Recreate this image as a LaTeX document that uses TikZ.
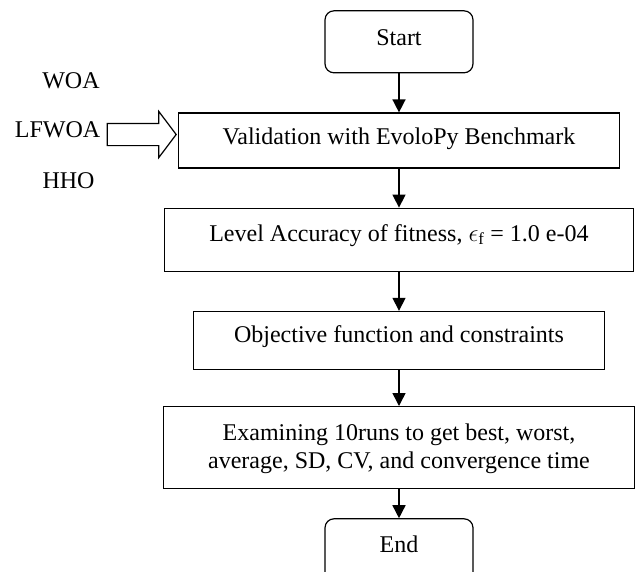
\documentclass[tikz,border=0pt]{standalone}
\usepackage{fontspec}
\setmainfont{Liberation Serif}
\usetikzlibrary{matrix}
\usetikzlibrary{shapes.arrows}
\usetikzlibrary{arrows.meta}

\begin{document}
\begin{tikzpicture}[x=1pt,y=-1pt,>={Stealth[length=13pt,width=13pt,inset=0pt]},
	term/.style={rounded corners=9pt,minimum width=148pt},
	lbl/.style={font=\fontsize{24}{28}\selectfont,anchor=base,inner sep=0pt}]
		\useasboundingbox (0,0) rectangle (635,571);
		\matrix (flow) [%
		matrix of nodes,
		nodes={draw,line width=1.2pt,inner sep=0pt,font=\fontsize{24}{28}\selectfont},
		row sep=39pt,inner sep=0pt,anchor=north,ampersand replacement=\&
		] at (399,10)
		{
			|[term,text height=35pt,text depth=27pt]| Start \\
			|[minimum width=441pt,text height=31pt,text depth=24pt]| Validation with EvoloPy Benchmark \\
			|[minimum width=469pt,text height=33pt,text depth=30pt]| Level Accuracy of fitness, $\epsilon_{\mathrm{f}}$ = 1.0 e-04 \\
			|[minimum width=411pt,text height=31pt,text depth=27pt]| Objective function and constraints \\[-3pt]
			|[minimum width=471pt,text height=34pt,text depth=48pt]| \begin{tabular}[t]{@{}c@{}}Examining 10runs to get best, worst,\\ average, SD, CV, and convergence time\end{tabular} \\[-10pt]
			|[term,text height=34pt,text depth=28pt]| End \\
		};
		\draw[->,line width=1.5pt] (flow-1-1) -- (flow-2-1);
		\draw[->,line width=1.5pt] (flow-2-1) -- (flow-3-1);
		\draw[->,line width=1.5pt] (flow-3-1) -- (flow-4-1);
		\draw[->,line width=1.5pt] (flow-4-1) -- (flow-5-1);
		\draw[->,line width=1.5pt] (flow-5-1) -- (flow-6-1);
		% algorithms fed into the validation step
		\node[lbl] (woa) at (71,88) {WOA};
		\node[lbl] (lfwoa) at (57.5,137) {LFWOA};
		\node[lbl] (hho) at (68.5,188) {HHO};
		\node[single arrow,draw,line width=1.2pt,minimum height=69pt,minimum width=45pt,
			single arrow head extend=12pt,single arrow tip angle=106,inner sep=0pt,
			text height=21pt,text depth=0pt] (feed) at (137.5,134.5) {};
\end{tikzpicture}
\end{document}
